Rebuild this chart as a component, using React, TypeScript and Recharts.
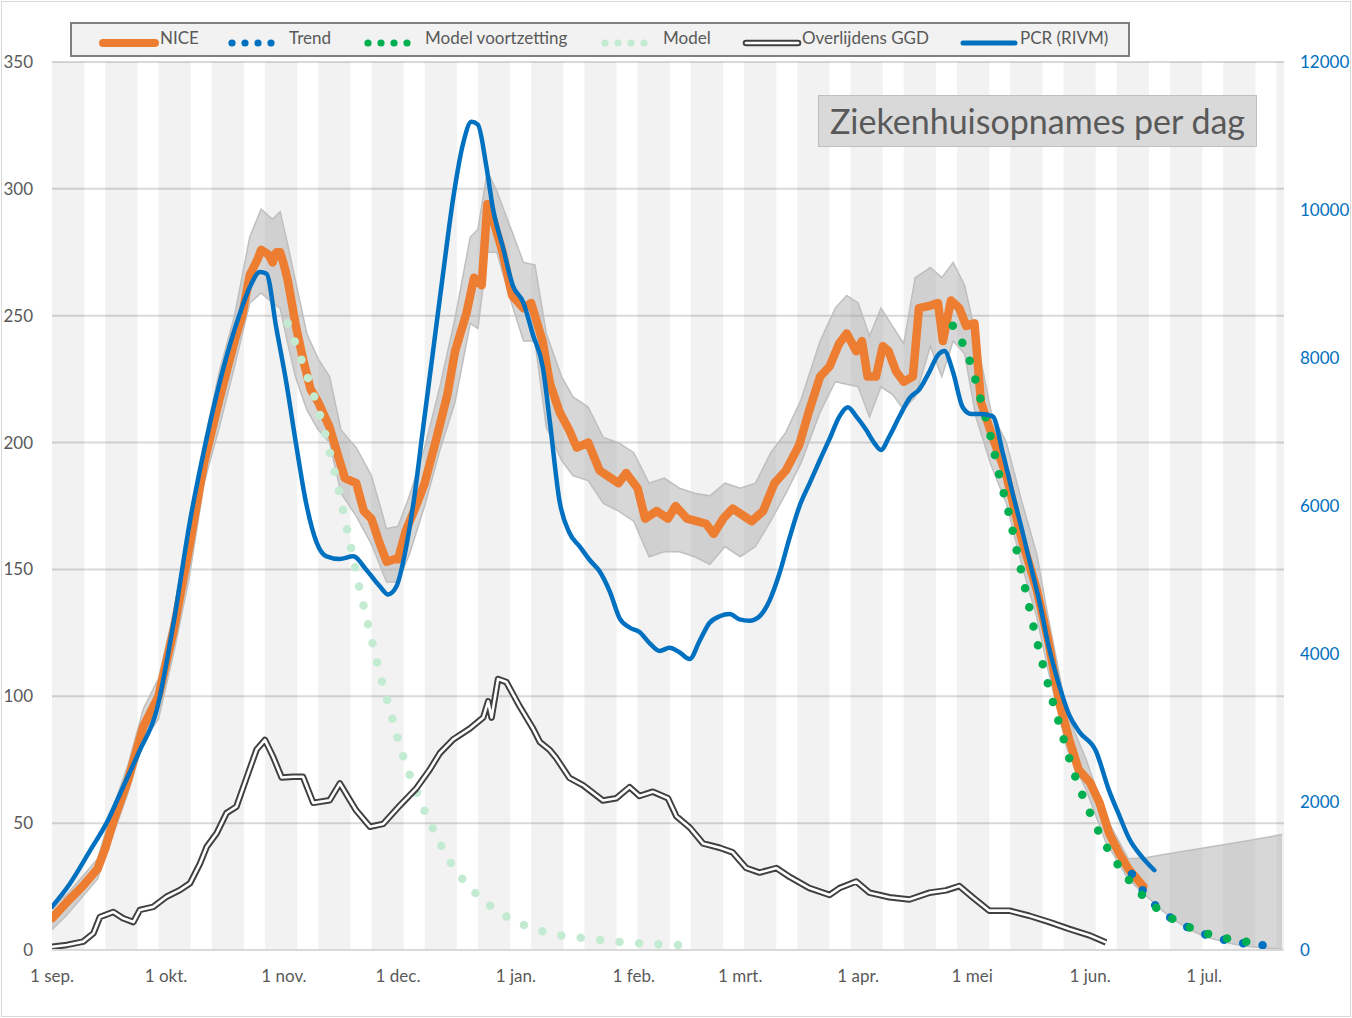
import React from "react";
import {
    Area,
    CartesianGrid,
    ComposedChart,
    Line,
    ReferenceArea,
    XAxis,
    YAxis,
} from "recharts";

// x = days since 1 sep.
const monthTicks = [0, 30, 61, 91, 122, 153, 181, 212, 242, 273, 303];
const monthLabels = ["1 sep.", "1 okt.", "1 nov.", "1 dec.", "1 jan.", "1 feb.", "1 mrt.", "1 apr.", "1 mei", "1 jun.", "1 jul."];
const leftTicks = [0, 50, 100, 150, 200, 250, 300, 350];
const rightTicks = [0, 2000, 4000, 6000, 8000, 10000, 12000];

// NICE ziekenhuisopnames per dag [day, value]
const nice: [number, number][] = [
    [0, 12.5], [4, 19], [8, 25], [12, 32], [14, 40], [16, 50], [20, 67], [24, 88], [28, 100], [32, 126],
    [36, 158], [40, 192], [44, 217], [48, 240], [50, 250], [52, 266], [54, 272], [55, 276], [57, 274], [58, 271],
    [59, 275], [60, 275], [61, 270], [62, 264], [64, 247], [66, 233], [68, 221], [70, 216], [73, 206], [75, 196],
    [77, 186], [80, 184], [82, 173], [84, 170], [86, 161], [88, 153], [90, 154], [91, 154], [93, 165], [96, 176],
    [98, 184], [101, 201], [104, 219], [106, 236], [109, 251], [111, 265], [113, 262], [114.5, 294], [116, 288], [118.5, 275],
    [121, 258], [124, 253], [126, 255], [129, 240], [131, 223], [133.5, 212], [136, 205], [138, 198], [141, 200], [144, 189],
    [147, 186], [149, 184], [151, 188], [154, 182], [156, 170], [159, 173], [162, 170], [164, 175], [167, 170], [169.5, 169],
    [172, 168], [174, 164], [176.5, 170], [179, 174], [182, 171], [184, 169], [187, 173], [190, 184], [193, 189], [196.5, 199],
    [199, 212], [202, 226], [204.5, 230], [207, 239], [209, 243], [211.5, 236], [213, 240], [214.5, 226], [216.7, 226], [218.5, 238],
    [220, 236], [222, 228], [224, 224], [226.4, 226], [228, 253], [231, 254], [233, 255], [234.3, 240], [236.4, 256], [238.6, 253],
    [240.4, 246], [242.6, 247], [244.3, 216], [247.4, 202], [251, 187], [255, 162], [259, 142], [262, 122], [265, 97], [267.5, 83],
    [270, 71], [273, 66], [275.5, 58], [278, 46], [280.7, 38], [283.3, 31.5], [287, 25],
];

// onzekerheidsband NICE [day, low, high]
const niceBand: [number, number, number][] = [
    [0, 8, 17], [4, 14, 22], [8, 21, 29], [12, 28, 36], [16, 45, 56], [20, 62, 73], [24, 82, 95], [28, 91, 107],
    [32, 117, 133], [36, 146, 168], [40, 184, 200], [44, 206, 228], [48, 230, 250], [52, 255, 281], [55, 259, 292], [58, 255, 288],
    [60, 253, 291], [62, 239, 278], [64, 226, 264], [67, 213, 243], [70, 205, 233], [73, 200, 226], [76, 180, 205], [80, 171, 198],
    [84, 160, 187], [88, 145, 166], [91, 145, 167], [94, 156, 179], [98, 175, 198], [102, 197, 222], [106, 216, 249], [110, 247, 281],
    [112, 245, 284], [114.5, 275, 307], [117, 275, 299], [120, 259, 287], [124, 240, 271], [127, 240, 270], [130, 206, 243], [134, 193, 226],
    [137, 187, 218], [141, 185, 214], [145, 176, 202], [149, 173, 200], [153, 169, 196], [157, 155, 184], [161, 157, 186], [165, 157, 182],
    [169, 155, 180], [173, 152, 179], [177, 159, 184], [181, 155, 182], [185, 159, 184], [189, 169, 196], [193, 180, 204], [197, 192, 217],
    [202, 212, 240], [206, 224, 253], [209, 223, 258], [212, 222, 255], [215, 210, 242], [218, 222, 253], [221, 219, 246], [224, 213, 239],
    [227, 218, 265], [231, 238, 269], [234, 226, 265], [237, 240, 271], [240, 235, 262], [243, 210, 242], [247, 191, 212], [251, 176, 200],
    [255, 152, 177], [259, 131, 156], [262, 110, 131], [267, 79, 93], [272, 63, 75], [277, 43, 53], [283, 28, 36],
];

// onzekerheid prognose [day, low, high]
const forecastBand: [number, number, number][] = [
    [283, 28, 36], [288, 21, 36.5], [292, 15.5, 37.5], [296, 11, 38.5], [300, 7.5, 39.5], [304, 5, 40.5],
    [308, 3.3, 41.5], [312, 2, 42.5], [316, 1.2, 43.5], [320, 0.7, 44.5], [323.5, 0.4, 45.5],
];

const trend: [number, number][] = [
    [284, 30], [287, 23.2], [290.3, 17.4], [294.5, 12.4], [299, 8.8], [304, 5.8], [309, 3.8], [314, 2.5], [319.5, 1.7],
];

const modelVoortzetting: [number, number][] = [
    [236.9, 246], [241.5, 231.6], [244.3, 216.6], [247, 201.5], [249.3, 186], [251.8, 171], [254, 155.5], [256.3, 140],
    [258.5, 125], [260.5, 113], [262.5, 101.7], [265.4, 86.5], [268.4, 71.4], [272.2, 56.7], [276.7, 42.5], [282.3, 29.4],
    [289.4, 17.9], [298.2, 9.6], [308.5, 4.7], [318.6, 2.5],
];

const model: [number, number][] = [
    [62, 247], [66, 231], [71, 208], [75, 184], [78, 163], [81.4, 139], [83.8, 124], [86.2, 109], [89, 94], [92, 78],
    [95.8, 62.5], [99.8, 49], [104.6, 35], [111, 23], [119.3, 13.4], [128.7, 7.5], [134, 5.7], [139, 4.8], [144.2, 3.9],
    [149.5, 3.1], [154.7, 2.6], [160, 2.2], [165.2, 2],
];

// overlijdens GGD per dag
const ggd: [number, number][] = [
    [0, 1.3], [3.9, 2], [8.2, 3.3], [10.9, 6.6], [12.6, 13], [16.1, 15], [18.7, 12.5], [21.4, 11], [23.1, 15.8], [26.6, 17],
    [30.1, 21], [33.6, 23.6], [36.3, 26.3], [38.9, 34], [40.7, 40.7], [43.3, 46], [45.9, 54], [48.5, 56.5], [51.2, 68], [53.8, 79],
    [56, 82.8], [58.2, 76], [60.4, 68], [63.4, 68.3], [66, 68.3], [68.7, 58], [73, 59], [75.7, 65.7], [80, 55], [83.6, 48.6],
    [87.1, 49.7], [91.5, 57], [95.8, 63.7], [99.3, 71], [102, 77.6], [105.5, 83], [109.9, 87.3], [113.4, 91.6], [114.7, 98], [115.6, 91.6],
    [117.3, 106.8], [119.5, 105.6], [123, 96], [126.5, 87.3], [128.3, 82], [130.9, 78.8], [132.6, 75.7], [136.1, 67.8], [139.6, 65], [144.9, 58.9],
    [148.4, 59.8], [151.9, 64.2], [154.5, 60.7], [158, 62.4], [162, 59.8], [164.2, 52.7], [167.7, 48.3], [171.2, 42], [175.6, 40.3], [179, 38.5],
    [182.6, 32.3], [186.1, 30.5], [190.5, 32.3], [194, 28.8], [199.2, 24.4], [204.5, 21.7], [207.1, 24.4], [211.5, 27], [215, 22.6], [220.2, 20.8],
    [225.5, 19.9], [230.8, 22.6], [235.1, 23.5], [238.6, 25.2], [242.1, 20.8], [246.5, 15.5], [251.8, 15.5], [257, 13.5], [262.3, 11], [267.5, 8.3],
    [272.8, 5.8], [277.2, 3],
];

// PCR positieve testen (RIVM), rechter as
const pcr: [number, number][] = [
    [0, 585], [4.7, 896], [10, 1343], [14.4, 1721], [18.7, 2203], [23, 2689], [27.5, 3237], [31.9, 4400], [36.3, 5800], [40.6, 6900],
    [45, 7850], [49.4, 8600], [52, 8955], [54.7, 9162], [56.4, 9140], [59, 8403], [61.7, 7645], [64.3, 6800], [66.9, 6022], [69.6, 5506],
    [72.2, 5320], [75.7, 5284], [79.2, 5320], [82.7, 5135], [86.2, 4915], [88.4, 4804], [90.6, 4915], [92.8, 5357], [95, 6022], [97.6, 7056],
    [100.2, 8089], [102.8, 9123], [105.5, 10157], [108.1, 10896], [110.3, 11191], [112, 11154], [114.2, 10600], [116, 10010], [118.6, 9494], [121.2, 8976],
    [123.9, 8755], [126.5, 8311], [129.1, 7868], [130.9, 7150], [133.5, 6058], [136.1, 5635], [138.8, 5451], [141.4, 5270], [144, 5118], [146.7, 4843],
    [149.3, 4480], [151.9, 4358], [154.5, 4297], [157.2, 4145], [159.8, 4041], [162.4, 4084], [165, 4024], [167.7, 3933], [170.3, 4176], [172.9, 4419],
    [175.6, 4510], [178.2, 4540], [180.8, 4468], [183.4, 4449], [186.1, 4510], [188.7, 4722], [191.3, 5087], [194, 5575], [196.6, 6000], [199.2, 6302],
    [201.8, 6605], [204.5, 6908], [207.1, 7212], [209.3, 7334], [211.5, 7212], [214.1, 7030], [216.3, 6848], [218, 6757], [220.2, 6939], [222.9, 7212],
    [225.5, 7455], [228.1, 7577], [230.8, 7820], [232.9, 8033], [234.7, 8093], [236.9, 7820], [239.5, 7334], [241.7, 7243], [244.3, 7243], [247.4, 7212],
    [250, 6727], [252.6, 6180], [255.3, 5635], [257, 5270], [259.7, 4704], [262.3, 4060], [264.9, 3572], [267.5, 3176], [270.2, 2947], [274.5, 2693],
    [278, 2154], [280.7, 1815], [283.3, 1503], [286.8, 1249], [289.9, 1078],
];

const ORANGE = "#ed7d31";
const BLUE = "#0070c0";
const GREEN = "#00b050";
const LIGHTGREEN = "#c3ebd2";
const TEXT = "#595959";
const FONT = "Lato, 'Open Sans', sans-serif";

const toRows = (arr: [number, number][]) => arr.map(([day, value]) => ({ day, value }));
const toBand = (arr: [number, number, number][]) => arr.map(([day, lo, hi]) => ({ day, range: [lo, hi] }));

// grijze achtergrondbanen, om de 14 dagen
const stripes: number[] = [];
for (let d = 0; d < 324; d += 14) stripes.push(d);

const dotted = { strokeDasharray: "0 19.5", strokeLinecap: "round" as const, strokeWidth: 8.5 };

const Swatch = ({ kind, color }: { kind: string; color: string }) => {
    if (kind === "dots") {
        return (
            <svg width={50} height={12}>
                {[0, 1, 2, 3].map((i) => (
                    <circle key={i} cx={5 + i * 13} cy={6} r={3.6} fill={color} />
                ))}
            </svg>
        );
    }
    if (kind === "double") {
        return (
            <svg width={60} height={12}>
                <line x1={4} y1={6} x2={56} y2={6} stroke="#404040" strokeWidth={6.5} strokeLinecap="round" />
                <line x1={4} y1={6} x2={56} y2={6} stroke="#fff" strokeWidth={2.6} strokeLinecap="round" />
            </svg>
        );
    }
    return (
        <svg width={60} height={12}>
            <line x1={4} y1={6} x2={56} y2={6} stroke={color} strokeWidth={kind === "thick" ? 8 : 5} strokeLinecap="round" />
        </svg>
    );
};

const legendItems = [
    { name: "NICE", kind: "thick", color: ORANGE, sx: 99, tx: 160 },
    { name: "Trend", kind: "dots", color: BLUE, sx: 227, tx: 289 },
    { name: "Model voortzetting", kind: "dots", color: GREEN, sx: 363, tx: 425 },
    { name: "Model", kind: "dots", color: LIGHTGREEN, sx: 600, tx: 663 },
    { name: "Overlijdens GGD", kind: "double", color: "#404040", sx: 742, tx: 802 },
    { name: "PCR (RIVM)", kind: "line", color: BLUE, sx: 959, tx: 1020 },
];

export default function App() {
    const tickStyle = { fill: TEXT, fontSize: 17, fontFamily: FONT };
    return (
        <div style={{ position: "absolute", left: 0, top: 0, width: 1352, height: 1018, background: "#fff", fontFamily: FONT }}>
            <ComposedChart width={1352} height={1018} margin={{ top: 62, right: 0, bottom: 0, left: 0 }}>
                <XAxis
                    dataKey="day"
                    type="number"
                    domain={[0, 324]}
                    allowDataOverflow
                    ticks={monthTicks}
                    interval={0}
                    tickFormatter={(d) => monthLabels[monthTicks.indexOf(d)] ?? ""}
                    height={68}
                    axisLine={{ stroke: "#d9d9d9", strokeWidth: 2 }}
                    tickLine={false}
                    tickSize={0}
                    tickMargin={20}
                    tick={tickStyle}
                />
                <YAxis
                    yAxisId="left"
                    domain={[0, 350]}
                    allowDataOverflow
                    ticks={leftTicks}
                    interval={0}
                    width={52}
                    axisLine={false}
                    tickLine={false}
                    tickSize={0}
                    tickMargin={19}
                    tick={tickStyle}
                />
                <YAxis
                    yAxisId="right"
                    orientation="right"
                    domain={[0, 12000]}
                    allowDataOverflow
                    ticks={rightTicks}
                    interval={0}
                    width={68}
                    axisLine={false}
                    tickLine={false}
                    tickSize={0}
                    tickMargin={16}
                    tick={{ ...tickStyle, fill: BLUE }}
                />
                <CartesianGrid yAxisId="left" vertical={false} stroke="#d9d9d9" strokeWidth={2} />
                {stripes.map((d) => (
                    <ReferenceArea
                        key={d}
                        yAxisId="left"
                        x1={d}
                        x2={Math.min(d + 8.5, 324)}
                        y1={0}
                        y2={350}
                        fill="#000"
                        fillOpacity={0.05}
                        stroke="none"
                    />
                ))}
                <Area
                    yAxisId="left"
                    data={toBand(niceBand)}
                    dataKey="range"
                    type="linear"
                    fill="#a6a6a6"
                    fillOpacity={0.45}
                    stroke="#bfbfbf"
                    strokeWidth={1.5}
                    isAnimationActive={false}
                />
                <Area
                    yAxisId="left"
                    data={toBand(forecastBand)}
                    dataKey="range"
                    type="monotone"
                    fill="#a6a6a6"
                    fillOpacity={0.45}
                    stroke="#bfbfbf"
                    strokeWidth={1.5}
                    isAnimationActive={false}
                />
                <Line
                    yAxisId="left"
                    data={toRows(nice)}
                    dataKey="value"
                    type="linear"
                    stroke={ORANGE}
                    strokeWidth={8.5}
                    strokeLinejoin="round"
                    strokeLinecap="round"
                    dot={false}
                    isAnimationActive={false}
                />
                <Line yAxisId="left" data={toRows(trend)} dataKey="value" type="monotone" stroke={BLUE} {...dotted} dot={false} isAnimationActive={false} />
                <Line yAxisId="left" data={toRows(modelVoortzetting)} dataKey="value" type="monotone" stroke={GREEN} {...dotted} dot={false} isAnimationActive={false} />
                <Line yAxisId="left" data={toRows(model)} dataKey="value" type="monotone" stroke={LIGHTGREEN} {...dotted} dot={false} isAnimationActive={false} />
                <Line yAxisId="left" data={toRows(ggd)} dataKey="value" type="linear" stroke="#404040" strokeWidth={6.5} strokeLinejoin="round" dot={false} isAnimationActive={false} />
                <Line yAxisId="left" data={toRows(ggd)} dataKey="value" type="linear" stroke="#ffffff" strokeWidth={2.6} strokeLinejoin="round" dot={false} isAnimationActive={false} />
                <Line
                    yAxisId="right"
                    data={toRows(pcr)}
                    dataKey="value"
                    type="monotone"
                    stroke={BLUE}
                    strokeWidth={4.5}
                    strokeLinejoin="round"
                    strokeLinecap="round"
                    dot={false}
                    isAnimationActive={false}
                />
            </ComposedChart>

            {/* legend */}
            <div style={{ position: "absolute", left: 70, top: 22, width: 1060, height: 35, boxSizing: "border-box", background: "#f2f2f2", border: "2px solid #808080" }} />
            {legendItems.map((it) => (
                <React.Fragment key={it.name}>
                    <div style={{ position: "absolute", left: it.sx, top: 33 }}>
                        <Swatch kind={it.kind} color={it.color} />
                    </div>
                    <div style={{ position: "absolute", left: it.tx, top: 28, fontSize: 17, color: TEXT, lineHeight: "20px", whiteSpace: "nowrap" }}>{it.name}</div>
                </React.Fragment>
            ))}

            {/* titel */}
            <div
                style={{
                    position: "absolute",
                    left: 818,
                    top: 95,
                    width: 439,
                    height: 52,
                    boxSizing: "border-box",
                    background: "#d9d9d9",
                    border: "1.5px solid #bfbfbf",
                    color: TEXT,
                    fontSize: 34,
                    lineHeight: "49px",
                    textAlign: "center",
                    whiteSpace: "nowrap",
                }}
            >
                Ziekenhuisopnames per dag
            </div>

            <div style={{ position: "absolute", left: 1, top: 1, width: 1350, height: 1016, boxSizing: "border-box", border: "1.5px solid #d9d9d9", pointerEvents: "none" }} />
        </div>
    );
}
